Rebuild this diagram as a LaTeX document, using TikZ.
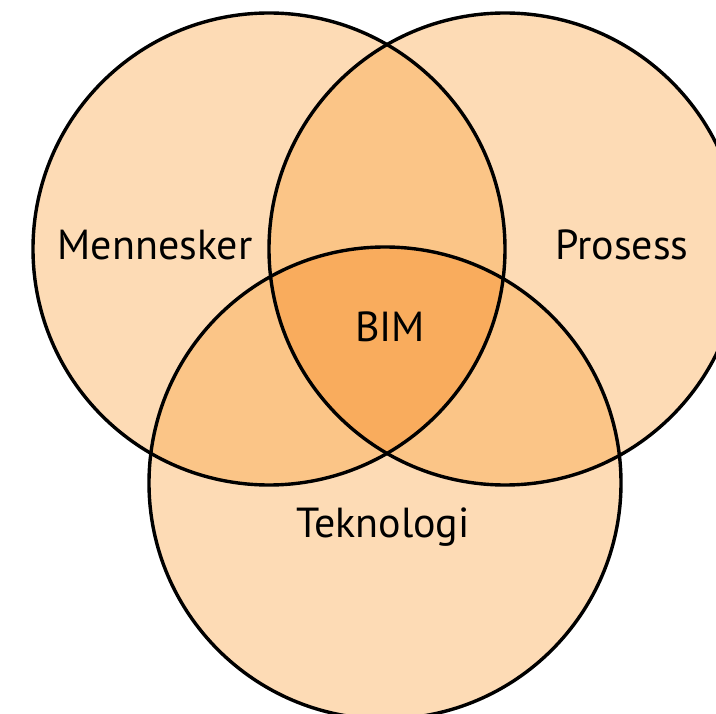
\documentclass[tikz,border=0pt]{standalone}
\usepackage{fontspec}
\setmainfont{PT Sans}
\definecolor{fillone}{HTML}{FDDBB5}
\definecolor{filltwo}{HTML}{FBC587}
\definecolor{fillthree}{HTML}{F9AC5D}
\begin{document}
\begin{tikzpicture}[x=1pt,y=-1pt,
  ring/.style={draw=black,line width=3.4pt},
  label/.style={font=\fontsize{42}{48}\selectfont,text=black,inner sep=0pt}]
\useasboundingbox (0,0) rectangle (716,714);
\def\R{236}
\coordinate (cl) at (269,249);
\coordinate (cr) at (505,249);
\coordinate (cb) at (385,483);
% single regions
\fill[fillone] (cl) circle (\R);
\fill[fillone] (cr) circle (\R);
\fill[fillone] (cb) circle (\R);
% pairwise overlaps
\begin{scope}
  \clip (cl) circle (\R);
  \fill[filltwo] (cr) circle (\R);
  \fill[filltwo] (cb) circle (\R);
\end{scope}
\begin{scope}
  \clip (cr) circle (\R);
  \fill[filltwo] (cb) circle (\R);
\end{scope}
% triple overlap
\begin{scope}
  \clip (cl) circle (\R);
  \clip (cr) circle (\R);
  \fill[fillthree] (cb) circle (\R);
\end{scope}
% outlines
\draw[ring] (cl) circle (\R);
\draw[ring] (cr) circle (\R);
\draw[ring] (cb) circle (\R);
% labels
\node[label] (men) at (155,245) {Mennesker};
\node[label] (pro) at (622,245) {Prosess};
\node[label] (bim) at (390,327) {BIM};
\node[label] (tek) at (383,527) {Teknologi};
\end{tikzpicture}
\end{document}
